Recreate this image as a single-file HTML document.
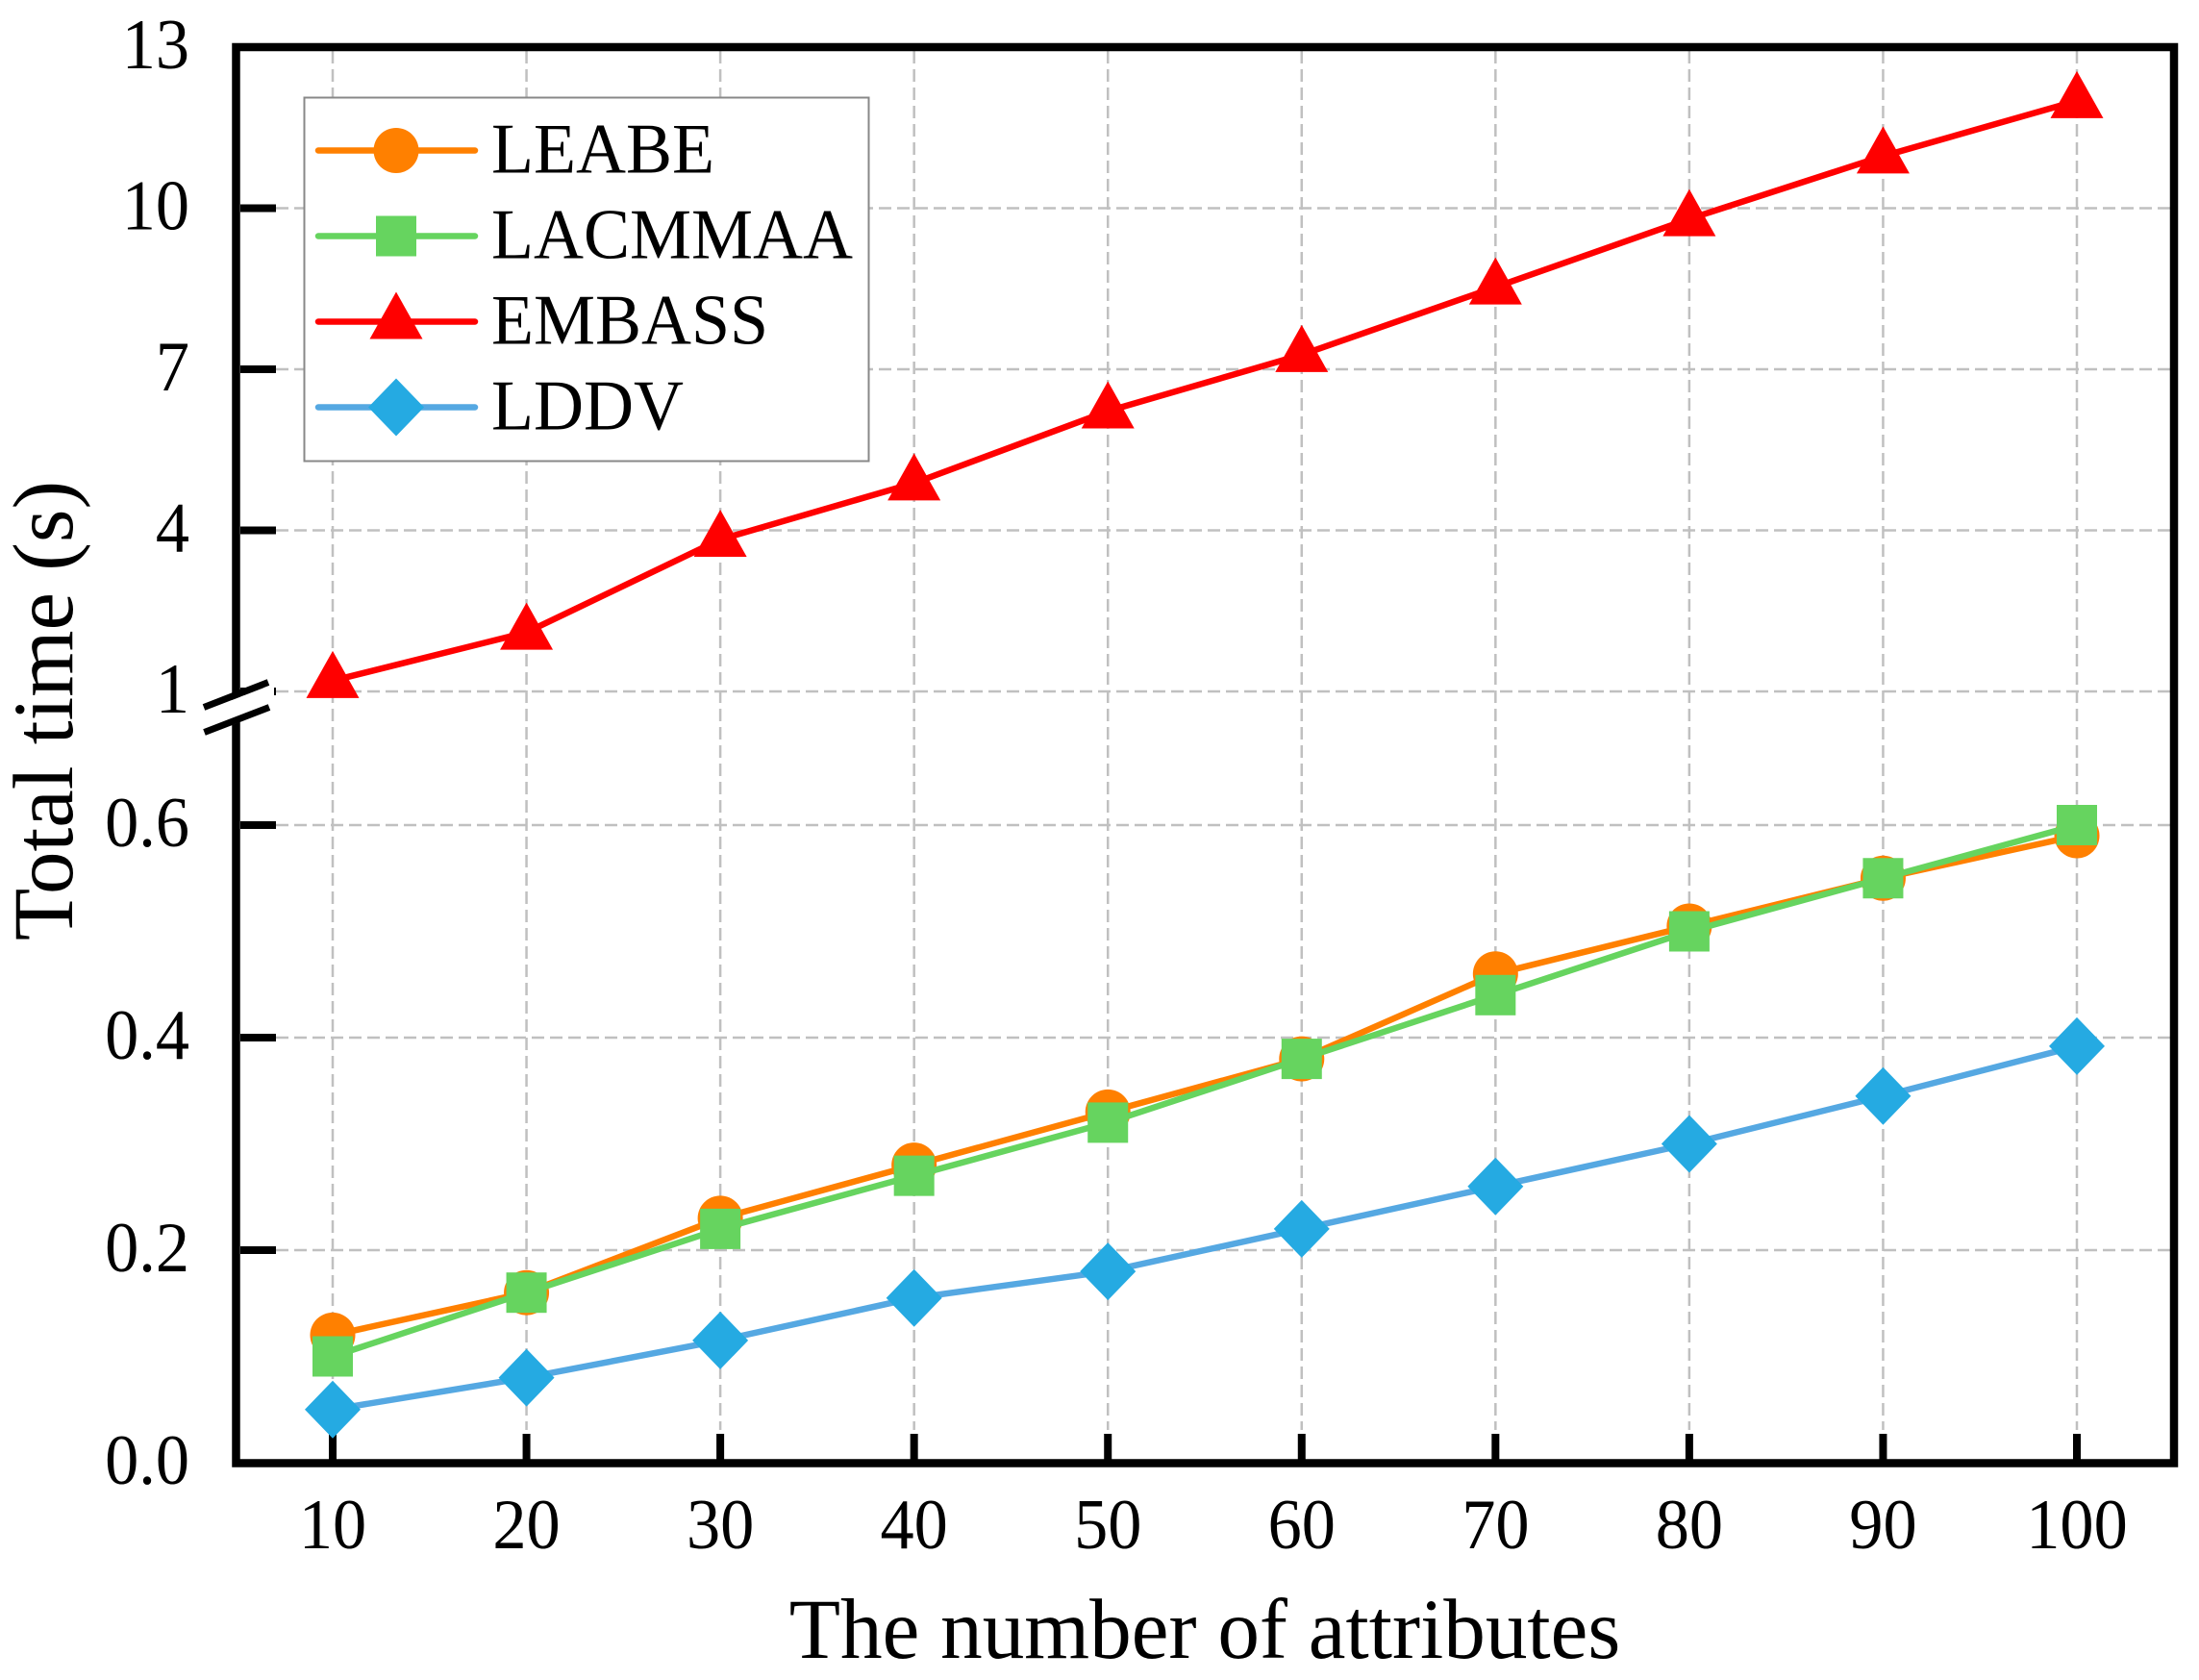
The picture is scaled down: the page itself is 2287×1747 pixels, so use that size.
<!DOCTYPE html>
<html lang="en">
<head>
<meta charset="utf-8">
<title>Total time vs number of attributes</title>
<style>
html,body{margin:0;padding:0;background:#fff;}
svg{display:block;}
text{font-family:"Liberation Serif","Times New Roman",serif;fill:#000;}
</style>
</head>
<body>
<svg id="chart" xmlns="http://www.w3.org/2000/svg" width="2287" height="1747" viewBox="0 0 2287 1747">
  <rect x="0" y="0" width="2287" height="1747" fill="#fff"/>
  <g id="grid"></g>
  <g id="ticks"></g>
  <g id="series"></g>
  <rect x="245.5" y="49" width="2015.5" height="1472.5" fill="none" stroke="#000" stroke-width="8.5"/>
  <g>
    <polygon points="205,739 285,708 285,734 205,765" fill="#fff" transform="translate(0,3)"/>
    <line x1="212" y1="735.5" x2="279" y2="709.5" stroke="#000" stroke-width="7"/>
    <line x1="212.5" y1="761.5" x2="280" y2="735.5" stroke="#000" stroke-width="7"/>
  </g>
  <g id="labels" font-size="74"></g>
  <text transform="translate(1253,1724) scale(0.98,1)" font-size="89" text-anchor="middle">The number of attributes</text>
  <text transform="translate(75,739) rotate(-90)" font-size="89" text-anchor="middle">Total time (s)</text>
  <g id="legend"></g>
</svg>
<script>
const categories = [10, 20, 30, 40, 50, 60, 70, 80, 90, 100];
const leabeValues = [0.12, 0.16, 0.23, 0.28, 0.33, 0.38, 0.46, 0.505, 0.55, 0.59];
const lacmmaaValues = [0.10, 0.16, 0.22, 0.27, 0.32, 0.38, 0.44, 0.50, 0.55, 0.60];
const embassValues = [1.2, 2.1, 3.83, 4.88, 6.22, 7.27, 8.53, 9.8, 10.97, 12];
const lddvValues = [0.05, 0.08, 0.115, 0.155, 0.18, 0.22, 0.26, 0.30, 0.345, 0.392];
const yTickLabels = ["0.0", "0.2", "0.4", "0.6", "1", "4", "7", "10", "13"];
const xTickLabels = ["10", "20", "30", "40", "50", "60", "70", "80", "90", "100"];
const seriesNames = ["LEABE", "LACMMAA", "EMBASS", "LDDV"];

const NS = "http://www.w3.org/2000/svg";

function xScale(v) {
  return 346 + (v - 10) * (2160 - 346) / 90;
}
function yScale(v) {
  if (v <= 0.6) return 1521 - v * (1521 - 858) / 0.6;
  if (v >= 1) return 719 - (v - 1) * (719 - 49) / 12;
  return 858 - (v - 0.6) * (858 - 719) / 0.4;
}

const gridG = document.getElementById("grid");
const ticksG = document.getElementById("ticks");
const labelsG = document.getElementById("labels");
const seriesG = document.getElementById("series");
const legendG = document.getElementById("legend");

function svgEl(tag, props) {
  const el = document.createElementNS(NS, tag);
  for (const k in props) el.setAttribute(k, props[k]);
  return el;
}

yTickLabels.forEach(function (label) {
  const v = parseFloat(label);
  const y = yScale(v);
  if (v !== 0 && v !== 13) {
    const g = svgEl("line", {x1: 287, y1: y, x2: 2257, y2: y, stroke: "#c0c0c0", "stroke-width": 2.5, "stroke-dasharray": "13 6"});
    
    
    gridG.appendChild(g);
    const t = svgEl("line", {x1: 250, y1: y, x2: 287, y2: y, stroke: "#000", "stroke-width": 8});
    
    
    ticksG.appendChild(t);
  }
  const txt = svgEl("text", {transform: "translate(197," + (y + 22) + ") scale(0.95,1)", "text-anchor": "end"});
  
  
  txt.textContent = label;
  labelsG.appendChild(txt);
});

xTickLabels.forEach(function (label) {
  const x = xScale(parseFloat(label));
  const g = svgEl("line", {x1: x, y1: 53, x2: x, y2: 1487, stroke: "#c0c0c0", "stroke-width": 2.5, "stroke-dasharray": "13 6"});
  
  
  gridG.appendChild(g);
  const t = svgEl("line", {x1: x, y1: 1491, x2: x, y2: 1518, stroke: "#000", "stroke-width": 8});
  
  
  ticksG.appendChild(t);
  const txt = svgEl("text", {transform: "translate(" + x + ",1610) scale(0.95,1)", "text-anchor": "middle"});
  
  
  txt.textContent = label;
  labelsG.appendChild(txt);
});

function marker(shape, color, cx, cy) {
  if (shape === "circle") {
    return svgEl("circle", {cx: cx, cy: cy, r: 23.5, fill: color});
  }
  if (shape === "square") {
    return svgEl("rect", {x: cx - 21, y: cy - 21, width: 42, height: 42, fill: color});
  }
  if (shape === "triangle") {
    return svgEl("polygon", {points: cx + "," + (cy - 31) + " " + (cx + 27.5) + "," + (cy + 18) + " " + (cx - 27.5) + "," + (cy + 18), fill: color});
  }
  return svgEl("polygon", {points: cx + "," + (cy - 30) + " " + (cx + 29) + "," + cy + " " + cx + "," + (cy + 30) + " " + (cx - 29) + "," + cy, fill: color});
}

const seriesValues = [leabeValues, lacmmaaValues, embassValues, lddvValues];
const lineColors = ["#ff8000", "#66d45f", "#ff0000", "#55a8e2"];
const markerColors = ["#ff8000", "#66d45f", "#ff0000", "#25aae2"];
const shapes = ["circle", "square", "triangle", "diamond"];

seriesNames.forEach(function (name, i) {
  const group = svgEl("g", {});
  
  
  const pts = seriesValues[i].map(function (v, j) {
    return xScale(categories[j]) + "," + yScale(v);
  }).join(" ");
  const line = svgEl("polyline", {points: pts, fill: "none", stroke: lineColors[i], "stroke-width": 6.5, "stroke-linejoin": "round"});
  
  
  group.appendChild(line);
  seriesValues[i].forEach(function (v, j) {
    const m = marker(shapes[i], markerColors[i], xScale(categories[j]), yScale(v));
    
    
    group.appendChild(m);
  });
  seriesG.appendChild(group);
});

const legendBox = svgEl("rect", {x: 316.5, y: 101.5, width: 587, height: 378, fill: "#fff", stroke: "#888", "stroke-width": 2});


legendG.appendChild(legendBox);

seriesNames.forEach(function (name, i) {
  const rowY = 156.5 + i * 89;
  const entry = svgEl("g", {});
  
  
  const l = svgEl("line", {x1: 331, y1: rowY, x2: 494, y2: rowY, stroke: lineColors[i], "stroke-width": 6.5, "stroke-linecap": "round"});
  
  
  entry.appendChild(l);
  const m = marker(shapes[i], markerColors[i], 412, rowY);
  
  
  entry.appendChild(m);
  const t = svgEl("text", {transform: "translate(511," + (rowY + 23) + ") scale(0.973,1)", "font-size": 74});
  
  
  t.textContent = name;
  entry.appendChild(t);
  legendG.appendChild(entry);
});
</script>
</body>
</html>
